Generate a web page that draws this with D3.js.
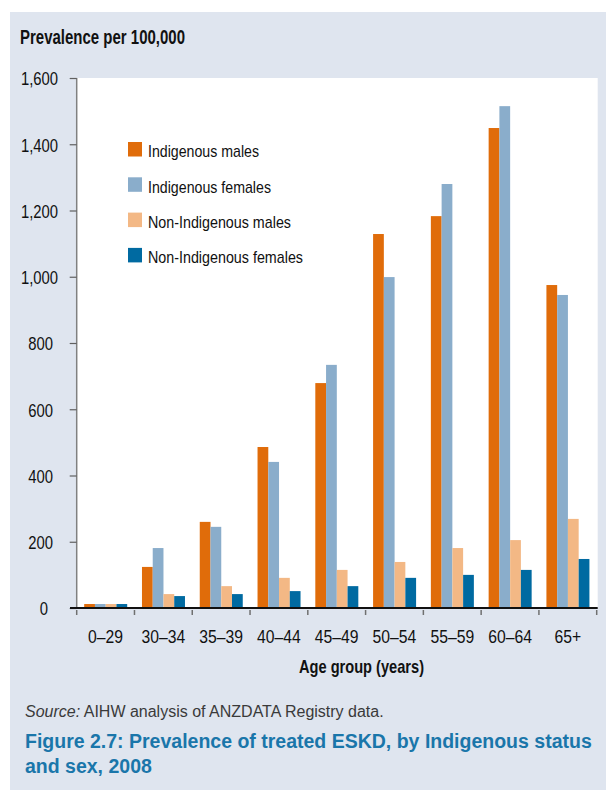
<!DOCTYPE html>
<html><head><meta charset="utf-8">
<script src="https://cdn.jsdelivr.net/npm/d3@7"></script>
<style>body{margin:0;background:#fff} svg{display:block}</style>
</head><body><svg id="c" width="606" height="794"></svg>
<script>
const categories = ["0–29","30–34","35–39","40–44","45–49","50–54","55–59","60–64","65+"];
const seriesNames = ["Indigenous males","Indigenous females","Non-Indigenous males","Non-Indigenous females"];
const indigenousMales = [12,124,260,486,679,1129,1183,1449,975];
const indigenousFemales = [12,181,245,441,734,999,1280,1515,945];
const nonIndigenousMales = [12,42,66,91,115,139,181,205,269];
const nonIndigenousFemales = [12,36,42,51,66,91,100,115,148];
const yTicks = [0,200,400,600,800,1000,1200,1400,1600];
const colors = ["#e06c0a","#8aadcb","#f3b885","#006aa1"];

const seriesValues = [indigenousMales, indigenousFemales, nonIndigenousMales, nonIndigenousFemales];
const font = "'Liberation Sans',Arial,sans-serif";
const svg = d3.select("#c");

function squeeze(sel, k){ sel.each(function(){ const w=this.getComputedTextLength(); d3.select(this).attr("textLength",w*k).attr("lengthAdjust","spacingAndGlyphs"); }); }
function fit(sel, w){ sel.attr("textLength",w).attr("lengthAdjust","spacingAndGlyphs"); }

// panel
svg.append("rect").attr("x",10).attr("y",12).attr("width",596).attr("height",778).attr("fill","#dfe5ef");

const L = 76.7, R = 596.7, T = 78, B = 608;
svg.append("rect").attr("x",L).attr("y",T).attr("width",597.7-L).attr("height",B-T).attr("fill","#fff");

const x = d3.scaleBand().domain(categories).range([L,R]).paddingInner(0).paddingOuter(0);
const xs = d3.scaleBand().domain(seriesNames).range([7.5,50.5]);
const y = d3.scaleLinear().domain([0,1600]).range([B,T]);

// bars
const rows = [];
categories.forEach((c,i)=>seriesNames.forEach((s,j)=>rows.push({c,s,j,v:seriesValues[j][i]})));
svg.append("g").selectAll("rect").data(rows).join("rect")
  .attr("x",d=>x(d.c)+xs(d.s)).attr("width",xs.bandwidth())
  .attr("y",d=>y(d.v)).attr("height",d=>B-y(d.v))
  .attr("fill",d=>colors[d.j]);

// y axis
const yAxis = svg.append("g").attr("transform",`translate(${L},0)`)
  .call(d3.axisLeft(y).tickValues(yTicks).tickSize(7).tickPadding(0).tickFormat(d3.format(",")));
yAxis.select(".domain").attr("stroke","#808080").attr("stroke-width",1.5).attr("d",`M0,${T}V${B}`);
yAxis.selectAll(".tick line").attr("stroke","#606060").attr("stroke-width",1.2);
const yt = yAxis.selectAll(".tick text").attr("font-family",font).attr("font-size",19).attr("fill","#111")
  .attr("text-anchor","end").attr("dy","0.36em")
  .attr("x",function(d){ const s=d3.format(",")(d); return (45.5+2.5*s.length)-L; });
squeeze(yt, 0.78);

// x axis
const xAxis = svg.append("g").attr("transform",`translate(0,${B})`)
  .call(d3.axisBottom(x).tickSize(0).tickPadding(0));
xAxis.select(".domain").remove();
const xt = xAxis.selectAll(".tick text").attr("font-family",font).attr("font-size",18.5).attr("fill","#111").attr("y",35).attr("dy",0);
squeeze(xt, 0.85);
svg.append("g").selectAll("line").data(d3.range(categories.length+1)).join("line")
  .attr("x1",i=>L+i*x.step()).attr("x2",i=>L+i*x.step()).attr("y1",B+2).attr("y2",B+7)
  .attr("stroke","#707070").attr("stroke-width",1.5);
svg.append("line").attr("x1",70).attr("x2",597.7).attr("y1",B).attr("y2",B).attr("stroke","#111").attr("stroke-width",2);

// legend
const legendWidths = [111,123,143,155];
const lg = svg.append("g").selectAll("g").data(seriesNames).join("g")
  .attr("transform",(d,i)=>`translate(128,${142+i*35.3})`);
lg.append("rect").attr("width",14).attr("height",14.5).attr("fill",(d,i)=>colors[i]);
lg.append("text").attr("x",20).attr("y",15.3).attr("font-family",font).attr("font-size",17).attr("fill","#111").text(d=>d)
  .attr("textLength",(d,i)=>legendWidths[i]).attr("lengthAdjust","spacingAndGlyphs");

// titles
fit(svg.append("text").attr("x",20).attr("y",44).attr("font-family",font).attr("font-weight","bold").attr("font-size",20).attr("fill","#111").text("Prevalence per 100,000"),165);
fit(svg.append("text").attr("x",361.5).attr("y",672.7).attr("text-anchor","middle").attr("font-family",font).attr("font-weight","bold").attr("font-size",18.5).attr("fill","#111").text("Age group (years)"),125);

const src = svg.append("text").attr("x",25).attr("y",716.7).attr("font-family",font).attr("font-size",16).attr("fill","#3a3a3a");
src.append("tspan").attr("font-style","italic").text("Source:");
src.append("tspan").text(" AIHW analysis of ANZDATA Registry data.");

svg.append("text").attr("x",25).attr("y",748.3).attr("font-family",font).attr("font-weight","bold").attr("font-size",19.5).attr("fill","#1a76aa").text("Figure 2.7: Prevalence of treated ESKD, by Indigenous status");
svg.append("text").attr("x",25).attr("y",773.3).attr("font-family",font).attr("font-weight","bold").attr("font-size",19.5).attr("fill","#1a76aa").text("and sex, 2008");
</script></body></html>
